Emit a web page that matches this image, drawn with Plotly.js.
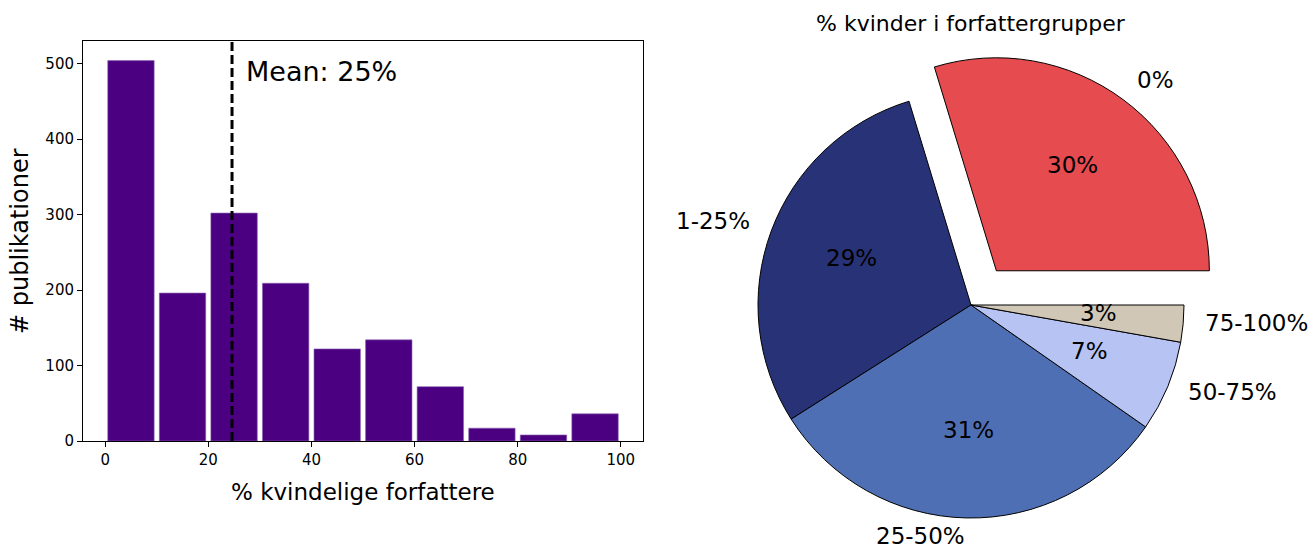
<!DOCTYPE html>
<html>
<head>
<meta charset="utf-8">
<script src="https://cdn.plot.ly/plotly-3.0.1.min.js"></script>
<style>html,body{margin:0;padding:0;background:#fff;}#chart{width:1314px;height:547px;}</style>
</head>
<body>
<div id="chart"></div>
<script>
// ---- data ----
const binCenters = [5, 15, 25, 35, 45, 55, 65, 75, 85, 95];
const counts = [504, 196, 302, 209, 122, 134, 72, 17, 8, 36];
const meanPct = 24.6;
const meanLabel = 'Mean: 25%';
const groups = ['0%', '1-25%', '25-50%', '50-75%', '75-100%'];
const shares = [29.7, 29.3, 31.3, 6.9, 2.8];
const explode = [0.2, 0, 0, 0, 0];
const pieColors = ['#E64B50', '#283276', '#4F6FB5', '#B7C3F2', '#D0C7B7'];
const pieTitle = '% kvinder i forfattergrupper';
const xTitle = '% kvindelige forfattere';
const yTitle = '# publikationer';

// ---- layout geometry (pixels) ----
const W = 1314, H = 547;
const ax = {l: 83, r: 643, t: 41, b: 441};
const pie = {cx: 971, cy: 305, r: 213};
const GLYPH_DY = -3; // vertical glyph-centering correction for annotation text
const FONT = 'DejaVu Sans, sans-serif';
const px2x = p => p / W;
const px2y = p => 1 - p / H;

const traces = [];
traces.push({
  type: 'bar', x: binCenters, y: counts, width: 9,
  marker: {color: '#4B0082', line: {color: '#8a63b0', width: 0.6}},
  xaxis: 'x', yaxis: 'y', hoverinfo: 'x+y', showlegend: false
});
traces.push({
  type: 'scatter', mode: 'lines', x: [meanPct, meanPct], y: [0, 1], yaxis: 'y2', xaxis: 'x',
  line: {color: 'black', width: 3, dash: '9px,4px'}, hoverinfo: 'skip', showlegend: false
});

function domainFor(cx, cy, r) {
  return {x: [px2x(cx - r), px2x(cx + r)], y: [px2y(cy + r), px2y(cy - r)]};
}
const total = shares.reduce((a, b) => a + b, 0);
const annotations = [];
let cum = 0;
const mids = [];
shares.forEach((v, i) => {
  const a0 = cum / total * 2 * Math.PI;
  cum += v;
  const a1 = cum / total * 2 * Math.PI;
  mids.push((a0 + a1) / 2);
});
// Plotly (counterclockwise) places slice 0 clockwise of the rotation point,
// so shift by its angle to have it start at 3 o'clock going counterclockwise.
const rot = 90 - shares[0] / total * 360;
// base pie: non-exploded slices
traces.push({
  type: 'pie', labels: groups, values: shares, sort: false, direction: 'counterclockwise', rotation: rot,
  marker: {
    colors: pieColors.map((c, i) => explode[i] > 0 ? 'rgba(0,0,0,0)' : c),
    line: {color: 'black', width: explode.map(e => e > 0 ? 0 : 1)}
  },
  textinfo: 'none', hoverinfo: 'label+percent', showlegend: false,
  domain: domainFor(pie.cx, pie.cy, pie.r)
});
// exploded slices, one trace each
explode.forEach((e, k) => {
  if (e <= 0) return;
  const ox = pie.cx + e * pie.r * Math.cos(mids[k]);
  const oy = pie.cy - e * pie.r * Math.sin(mids[k]);
  traces.push({
    type: 'pie', labels: groups, values: shares, sort: false, direction: 'counterclockwise', rotation: rot,
    marker: {
      colors: pieColors.map((c, i) => i === k ? c : 'rgba(0,0,0,0)'),
      line: {color: 'black', width: explode.map((_, i) => i === k ? 1 : 0)}
    },
    textinfo: 'none', hoverinfo: 'label+percent', showlegend: false,
    domain: domainFor(ox, oy, pie.r)
  });
});
// pie labels & percentages
shares.forEach((v, i) => {
  const m = mids[i];
  const ccx = pie.cx + explode[i] * pie.r * Math.cos(m);
  const ccy = pie.cy - explode[i] * pie.r * Math.sin(m);
  const c = Math.cos(m), s = Math.sin(m);
  annotations.push({
    xref: 'paper', yref: 'paper', x: px2x(ccx + 0.6 * pie.r * c), y: px2y(ccy - 0.6 * pie.r * s + GLYPH_DY),
    text: Math.round(v / total * 100) + '%', showarrow: false, xanchor: 'center', yanchor: 'middle',
    borderpad: 0, font: {family: FONT, size: 23, color: 'black'}
  });
  annotations.push({
    xref: 'paper', yref: 'paper', x: px2x(ccx + 1.1 * pie.r * c), y: px2y(ccy - 1.1 * pie.r * s + GLYPH_DY),
    text: groups[i], showarrow: false, xanchor: c > 0 ? 'left' : 'right', yanchor: 'middle',
    borderpad: 0, font: {family: FONT, size: 23, color: 'black'}
  });
});
annotations.push({
  xref: 'paper', yref: 'paper', x: px2x(pie.cx), y: px2y(23), text: pieTitle, showarrow: false,
  xanchor: 'center', yanchor: 'middle', font: {family: FONT, size: 22, color: 'black'}
});
annotations.push({
  xref: 'x', yref: 'y', x: meanPct + 2.4, y: 489, text: meanLabel, showarrow: false,
  xanchor: 'left', yanchor: 'middle', font: {family: FONT, size: 27, color: 'black'}
});
annotations.push({
  xref: 'paper', yref: 'paper', x: px2x((ax.l + ax.r) / 2), y: px2y(492), text: xTitle, showarrow: false,
  xanchor: 'center', yanchor: 'middle', font: {family: FONT, size: 23, color: 'black'}
});
annotations.push({
  xref: 'paper', yref: 'paper', x: px2x(20), y: px2y((ax.t + ax.b) / 2), text: yTitle, showarrow: false,
  textangle: -90, xanchor: 'center', yanchor: 'middle', font: {family: FONT, size: 24, color: 'black'}
});

const axisCommon = {
  showgrid: false, zeroline: false, showline: true, linecolor: 'black', linewidth: 1, mirror: true,
  ticks: 'outside', ticklen: 5, tickwidth: 1, tickcolor: 'black',
  tickfont: {family: FONT, size: 15, color: 'black'}, automargin: false
};
const layout = {
  width: W, height: H, margin: {l: 0, r: 0, t: 0, b: 0}, paper_bgcolor: 'white', plot_bgcolor: 'white',
  xaxis: Object.assign({}, axisCommon, {domain: [px2x(ax.l), px2x(ax.r)], range: [-4.3, 104.3], tickvals: [0, 20, 40, 60, 80, 100]}),
  yaxis: Object.assign({}, axisCommon, {domain: [px2y(ax.b), px2y(ax.t)], range: [0, 530], tickvals: [0, 100, 200, 300, 400, 500]}),
  yaxis2: {overlaying: 'y', range: [0, 1], visible: false, domain: [px2y(ax.b), px2y(ax.t)]},
  annotations: annotations, bargap: 0, font: {family: FONT}
};
Plotly.newPlot('chart', traces, layout, {displayModeBar: false, staticPlot: true});
</script>
</body>
</html>
